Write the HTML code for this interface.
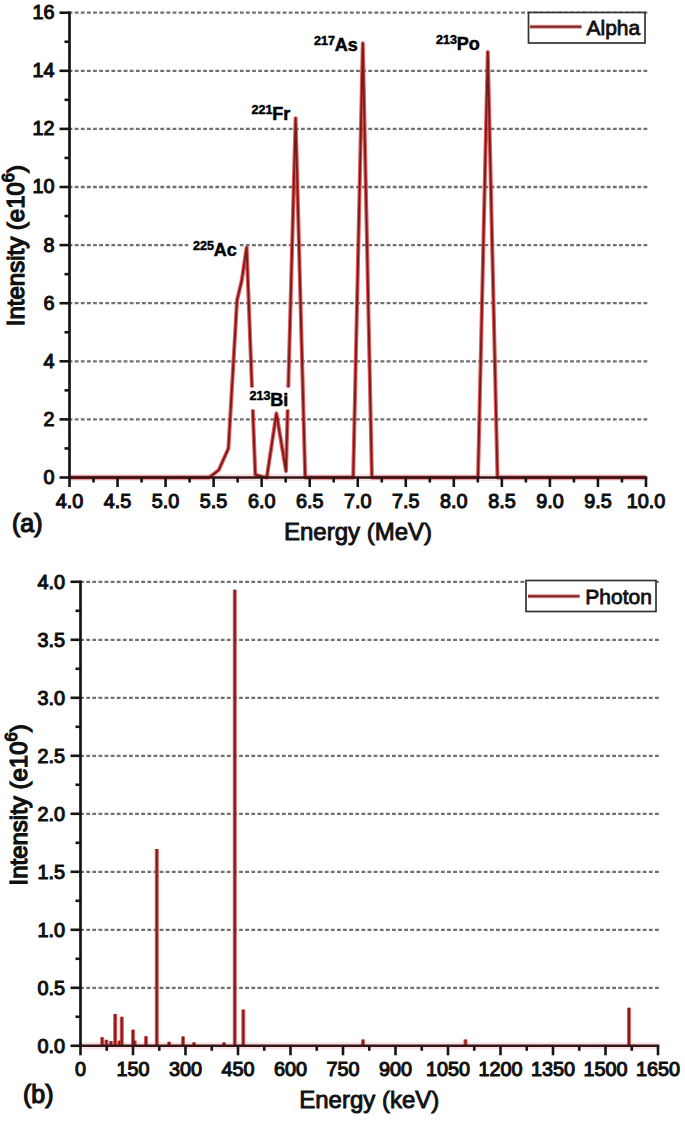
<!DOCTYPE html>
<html><head><meta charset="utf-8"><title>Spectra</title>
<style>html,body{margin:0;padding:0;background:#fff;overflow:hidden}svg{display:block}text{font-family:"Liberation Sans",sans-serif}</style>
</head><body>
<svg width="685" height="1121" viewBox="0 0 685 1121">
<rect width="685" height="1121" fill="#fff"/>
<line x1="68.6" y1="419.40" x2="647.5" y2="419.40" stroke="#707070" stroke-width="2.3" stroke-dasharray="3.8 2.316"/>
<line x1="68.6" y1="361.30" x2="647.5" y2="361.30" stroke="#707070" stroke-width="2.3" stroke-dasharray="3.8 2.316"/>
<line x1="68.6" y1="303.20" x2="647.5" y2="303.20" stroke="#707070" stroke-width="2.3" stroke-dasharray="3.8 2.316"/>
<line x1="68.6" y1="245.10" x2="647.5" y2="245.10" stroke="#707070" stroke-width="2.3" stroke-dasharray="3.8 2.316"/>
<line x1="68.6" y1="187.00" x2="647.5" y2="187.00" stroke="#707070" stroke-width="2.3" stroke-dasharray="3.8 2.316"/>
<line x1="68.6" y1="128.90" x2="647.5" y2="128.90" stroke="#707070" stroke-width="2.3" stroke-dasharray="3.8 2.316"/>
<line x1="68.6" y1="70.80" x2="647.5" y2="70.80" stroke="#707070" stroke-width="2.3" stroke-dasharray="3.8 2.316"/>
<line x1="68.6" y1="12.70" x2="647.5" y2="12.70" stroke="#707070" stroke-width="2.3" stroke-dasharray="3.8 2.316"/>
<line x1="71.0" y1="477.5" x2="646.0" y2="477.5" stroke="#f8e2e4" stroke-width="7"/>
<polyline points="70.00,477.50 209.20,477.50 218.80,469.95 228.40,448.45 237.04,300.30 241.84,279.96 246.64,247.42 255.28,474.60 262.00,476.63 266.80,477.50 276.40,413.30 286.00,471.11 295.60,118.15 305.20,477.50 353.20,477.50 362.80,43.20 371.92,477.50 478.00,477.50 487.79,51.92 497.49,477.50 646.00,477.50" fill="none" stroke="#e03c3c" stroke-width="4.0" stroke-linejoin="round" opacity="0.85"/>
<polyline points="70.00,477.50 209.20,477.50 218.80,469.95 228.40,448.45 237.04,300.30 241.84,279.96 246.64,247.42 255.28,474.60 262.00,476.63 266.80,477.50 276.40,413.30 286.00,471.11 295.60,118.15 305.20,477.50 353.20,477.50 362.80,43.20 371.92,477.50 478.00,477.50 487.79,51.92 497.49,477.50 646.00,477.50" fill="none" stroke="#741c1c" stroke-width="1.8" stroke-linejoin="round"/>
<line x1="68.1" y1="477.5" x2="647.3" y2="477.5" stroke="#351616" stroke-width="2.5"/>
<line x1="69.5" y1="11.4" x2="69.5" y2="478.9" stroke="#151515" stroke-width="2.7"/>
<line x1="59.5" y1="477.50" x2="69.5" y2="477.50" stroke="#151515" stroke-width="2.6"/>
<line x1="64.5" y1="448.45" x2="69.5" y2="448.45" stroke="#151515" stroke-width="2.6"/>
<line x1="59.5" y1="419.40" x2="69.5" y2="419.40" stroke="#151515" stroke-width="2.6"/>
<line x1="64.5" y1="390.35" x2="69.5" y2="390.35" stroke="#151515" stroke-width="2.6"/>
<line x1="59.5" y1="361.30" x2="69.5" y2="361.30" stroke="#151515" stroke-width="2.6"/>
<line x1="64.5" y1="332.25" x2="69.5" y2="332.25" stroke="#151515" stroke-width="2.6"/>
<line x1="59.5" y1="303.20" x2="69.5" y2="303.20" stroke="#151515" stroke-width="2.6"/>
<line x1="64.5" y1="274.15" x2="69.5" y2="274.15" stroke="#151515" stroke-width="2.6"/>
<line x1="59.5" y1="245.10" x2="69.5" y2="245.10" stroke="#151515" stroke-width="2.6"/>
<line x1="64.5" y1="216.05" x2="69.5" y2="216.05" stroke="#151515" stroke-width="2.6"/>
<line x1="59.5" y1="187.00" x2="69.5" y2="187.00" stroke="#151515" stroke-width="2.6"/>
<line x1="64.5" y1="157.95" x2="69.5" y2="157.95" stroke="#151515" stroke-width="2.6"/>
<line x1="59.5" y1="128.90" x2="69.5" y2="128.90" stroke="#151515" stroke-width="2.6"/>
<line x1="64.5" y1="99.85" x2="69.5" y2="99.85" stroke="#151515" stroke-width="2.6"/>
<line x1="59.5" y1="70.80" x2="69.5" y2="70.80" stroke="#151515" stroke-width="2.6"/>
<line x1="64.5" y1="41.75" x2="69.5" y2="41.75" stroke="#151515" stroke-width="2.6"/>
<line x1="59.5" y1="12.70" x2="69.5" y2="12.70" stroke="#151515" stroke-width="2.6"/>
<line x1="69.50" y1="477.5" x2="69.50" y2="487.0" stroke="#151515" stroke-width="2.6"/>
<line x1="93.52" y1="477.5" x2="93.52" y2="482.5" stroke="#151515" stroke-width="2.6"/>
<line x1="117.54" y1="477.5" x2="117.54" y2="487.0" stroke="#151515" stroke-width="2.6"/>
<line x1="141.56" y1="477.5" x2="141.56" y2="482.5" stroke="#151515" stroke-width="2.6"/>
<line x1="165.58" y1="477.5" x2="165.58" y2="487.0" stroke="#151515" stroke-width="2.6"/>
<line x1="189.60" y1="477.5" x2="189.60" y2="482.5" stroke="#151515" stroke-width="2.6"/>
<line x1="213.62" y1="477.5" x2="213.62" y2="487.0" stroke="#151515" stroke-width="2.6"/>
<line x1="237.64" y1="477.5" x2="237.64" y2="482.5" stroke="#151515" stroke-width="2.6"/>
<line x1="261.66" y1="477.5" x2="261.66" y2="487.0" stroke="#151515" stroke-width="2.6"/>
<line x1="285.68" y1="477.5" x2="285.68" y2="482.5" stroke="#151515" stroke-width="2.6"/>
<line x1="309.70" y1="477.5" x2="309.70" y2="487.0" stroke="#151515" stroke-width="2.6"/>
<line x1="333.72" y1="477.5" x2="333.72" y2="482.5" stroke="#151515" stroke-width="2.6"/>
<line x1="357.74" y1="477.5" x2="357.74" y2="487.0" stroke="#151515" stroke-width="2.6"/>
<line x1="381.76" y1="477.5" x2="381.76" y2="482.5" stroke="#151515" stroke-width="2.6"/>
<line x1="405.78" y1="477.5" x2="405.78" y2="487.0" stroke="#151515" stroke-width="2.6"/>
<line x1="429.80" y1="477.5" x2="429.80" y2="482.5" stroke="#151515" stroke-width="2.6"/>
<line x1="453.82" y1="477.5" x2="453.82" y2="487.0" stroke="#151515" stroke-width="2.6"/>
<line x1="477.84" y1="477.5" x2="477.84" y2="482.5" stroke="#151515" stroke-width="2.6"/>
<line x1="501.86" y1="477.5" x2="501.86" y2="487.0" stroke="#151515" stroke-width="2.6"/>
<line x1="525.88" y1="477.5" x2="525.88" y2="482.5" stroke="#151515" stroke-width="2.6"/>
<line x1="549.90" y1="477.5" x2="549.90" y2="487.0" stroke="#151515" stroke-width="2.6"/>
<line x1="573.92" y1="477.5" x2="573.92" y2="482.5" stroke="#151515" stroke-width="2.6"/>
<line x1="597.94" y1="477.5" x2="597.94" y2="487.0" stroke="#151515" stroke-width="2.6"/>
<line x1="621.96" y1="477.5" x2="621.96" y2="482.5" stroke="#151515" stroke-width="2.6"/>
<line x1="645.98" y1="477.5" x2="645.98" y2="487.0" stroke="#151515" stroke-width="2.6"/>
<text x="54.5" y="483.9" text-anchor="end" font-size="19.8" stroke="#111" stroke-width="1.1" fill="#111">0</text>
<text x="54.5" y="425.8" text-anchor="end" font-size="19.8" stroke="#111" stroke-width="1.1" fill="#111">2</text>
<text x="54.5" y="367.7" text-anchor="end" font-size="19.8" stroke="#111" stroke-width="1.1" fill="#111">4</text>
<text x="54.5" y="309.6" text-anchor="end" font-size="19.8" stroke="#111" stroke-width="1.1" fill="#111">6</text>
<text x="54.5" y="251.5" text-anchor="end" font-size="19.8" stroke="#111" stroke-width="1.1" fill="#111">8</text>
<text x="54.5" y="193.4" text-anchor="end" font-size="19.8" stroke="#111" stroke-width="1.1" fill="#111">10</text>
<text x="54.5" y="135.3" text-anchor="end" font-size="19.8" stroke="#111" stroke-width="1.1" fill="#111">12</text>
<text x="54.5" y="77.2" text-anchor="end" font-size="19.8" stroke="#111" stroke-width="1.1" fill="#111">14</text>
<text x="54.5" y="19.1" text-anchor="end" font-size="19.8" stroke="#111" stroke-width="1.1" fill="#111">16</text>
<text x="69.5" y="508" text-anchor="middle" font-size="19.8" stroke="#111" stroke-width="1.1" fill="#111">4.0</text>
<text x="117.5" y="508" text-anchor="middle" font-size="19.8" stroke="#111" stroke-width="1.1" fill="#111">4.5</text>
<text x="165.6" y="508" text-anchor="middle" font-size="19.8" stroke="#111" stroke-width="1.1" fill="#111">5.0</text>
<text x="213.6" y="508" text-anchor="middle" font-size="19.8" stroke="#111" stroke-width="1.1" fill="#111">5.5</text>
<text x="261.7" y="508" text-anchor="middle" font-size="19.8" stroke="#111" stroke-width="1.1" fill="#111">6.0</text>
<text x="309.7" y="508" text-anchor="middle" font-size="19.8" stroke="#111" stroke-width="1.1" fill="#111">6.5</text>
<text x="357.7" y="508" text-anchor="middle" font-size="19.8" stroke="#111" stroke-width="1.1" fill="#111">7.0</text>
<text x="405.8" y="508" text-anchor="middle" font-size="19.8" stroke="#111" stroke-width="1.1" fill="#111">7.5</text>
<text x="453.8" y="508" text-anchor="middle" font-size="19.8" stroke="#111" stroke-width="1.1" fill="#111">8.0</text>
<text x="501.9" y="508" text-anchor="middle" font-size="19.8" stroke="#111" stroke-width="1.1" fill="#111">8.5</text>
<text x="549.9" y="508" text-anchor="middle" font-size="19.8" stroke="#111" stroke-width="1.1" fill="#111">9.0</text>
<text x="597.9" y="508" text-anchor="middle" font-size="19.8" stroke="#111" stroke-width="1.1" fill="#111">9.5</text>
<text x="646.0" y="508" text-anchor="middle" font-size="19.8" stroke="#111" stroke-width="1.1" fill="#111">10.0</text>
<text x="358" y="540" text-anchor="middle" font-size="24.0" stroke="#111" stroke-width="0.9" fill="#111">Energy (MeV)</text>
<text transform="translate(24,245.6) rotate(-90)" text-anchor="middle" font-size="24.0" stroke="#111" stroke-width="1.3" fill="#111">Intensity (e10<tspan font-size="16.5" dy="-10">6</tspan><tspan dy="10">)</tspan></text>
<text x="12" y="531.9" font-size="25" stroke="#111" stroke-width="1.2" fill="#111">(a)</text>
<rect x="188.5" y="236" width="49.5" height="23" fill="#fff"/>
<text x="193.0" y="256.0" font-size="18" font-weight="bold" stroke="#000" stroke-width="0.5" fill="#000"><tspan font-size="12.5" dy="-6">225</tspan><tspan dy="6">Ac</tspan></text>
<text x="251.5" y="120.0" font-size="18" font-weight="bold" stroke="#000" stroke-width="0.5" fill="#000"><tspan font-size="12.5" dy="-6">221</tspan><tspan dy="6">Fr</tspan></text>
<text x="314.0" y="51.0" font-size="18" font-weight="bold" stroke="#000" stroke-width="0.5" fill="#000"><tspan font-size="12.5" dy="-6">217</tspan><tspan dy="6">As</tspan></text>
<text x="436.0" y="50.0" font-size="18" font-weight="bold" stroke="#000" stroke-width="0.5" fill="#000"><tspan font-size="12.5" dy="-6">213</tspan><tspan dy="6">Po</tspan></text>
<rect x="248" y="387.5" width="42.5" height="22.0" fill="#fff"/>
<text x="249.5" y="406.0" font-size="18" font-weight="bold" stroke="#000" stroke-width="0.5" fill="#000"><tspan font-size="12.5" dy="-6">213</tspan><tspan dy="6">Bi</tspan></text>
<rect x="528.5" y="12.5" width="116.5" height="30.5" fill="#fff" stroke="#333" stroke-width="1.7"/>
<line x1="530" y1="26.8" x2="581.5" y2="26.8" stroke="#e58a8a" stroke-width="4"/>
<line x1="530" y1="26.8" x2="581.5" y2="26.8" stroke="#7a2a2a" stroke-width="2"/>
<text x="586.5" y="35" font-size="21" stroke="#111" stroke-width="0.8" fill="#111">Alpha</text>
<line x1="80.1" y1="987.80" x2="659.5" y2="987.80" stroke="#707070" stroke-width="2.3" stroke-dasharray="3.8 2.316"/>
<line x1="80.1" y1="929.80" x2="659.5" y2="929.80" stroke="#707070" stroke-width="2.3" stroke-dasharray="3.8 2.316"/>
<line x1="80.1" y1="871.80" x2="659.5" y2="871.80" stroke="#707070" stroke-width="2.3" stroke-dasharray="3.8 2.316"/>
<line x1="80.1" y1="813.80" x2="659.5" y2="813.80" stroke="#707070" stroke-width="2.3" stroke-dasharray="3.8 2.316"/>
<line x1="80.1" y1="755.80" x2="659.5" y2="755.80" stroke="#707070" stroke-width="2.3" stroke-dasharray="3.8 2.316"/>
<line x1="80.1" y1="697.80" x2="659.5" y2="697.80" stroke="#707070" stroke-width="2.3" stroke-dasharray="3.8 2.316"/>
<line x1="80.1" y1="639.80" x2="659.5" y2="639.80" stroke="#707070" stroke-width="2.3" stroke-dasharray="3.8 2.316"/>
<line x1="80.1" y1="581.80" x2="659.5" y2="581.80" stroke="#707070" stroke-width="2.3" stroke-dasharray="3.8 2.316"/>
<line x1="82.0" y1="1045.8" x2="658.0" y2="1045.8" stroke="#f8e2e4" stroke-width="7"/>
<line x1="102.20" y1="1045.80" x2="102.20" y2="1037.19" stroke="#e03c3c" stroke-width="4.0" opacity="0.85"/>
<line x1="106.40" y1="1045.80" x2="106.40" y2="1039.85" stroke="#e03c3c" stroke-width="4.0" opacity="0.85"/>
<line x1="110.95" y1="1045.80" x2="110.95" y2="1041.13" stroke="#e03c3c" stroke-width="4.0" opacity="0.85"/>
<line x1="115.15" y1="1045.80" x2="115.15" y2="1014.01" stroke="#e03c3c" stroke-width="4.0" opacity="0.85"/>
<line x1="119.35" y1="1045.80" x2="119.35" y2="1040.66" stroke="#e03c3c" stroke-width="4.0" opacity="0.85"/>
<line x1="121.80" y1="1045.80" x2="121.80" y2="1016.79" stroke="#e03c3c" stroke-width="4.0" opacity="0.85"/>
<line x1="133.00" y1="1045.80" x2="133.00" y2="1029.65" stroke="#e03c3c" stroke-width="4.0" opacity="0.85"/>
<line x1="134.75" y1="1045.80" x2="134.75" y2="1040.66" stroke="#e03c3c" stroke-width="4.0" opacity="0.85"/>
<line x1="145.95" y1="1045.80" x2="145.95" y2="1036.26" stroke="#e03c3c" stroke-width="4.0" opacity="0.85"/>
<line x1="156.80" y1="1045.80" x2="156.80" y2="848.97" stroke="#e03c3c" stroke-width="4.0" opacity="0.85"/>
<line x1="169.05" y1="1045.80" x2="169.05" y2="1041.82" stroke="#e03c3c" stroke-width="4.0" opacity="0.85"/>
<line x1="183.05" y1="1045.80" x2="183.05" y2="1036.49" stroke="#e03c3c" stroke-width="4.0" opacity="0.85"/>
<line x1="193.90" y1="1045.80" x2="193.90" y2="1042.40" stroke="#e03c3c" stroke-width="4.0" opacity="0.85"/>
<line x1="224.00" y1="1045.80" x2="224.00" y2="1042.40" stroke="#e03c3c" stroke-width="4.0" opacity="0.85"/>
<line x1="234.78" y1="1045.80" x2="234.78" y2="589.81" stroke="#e03c3c" stroke-width="4.0" opacity="0.85"/>
<line x1="243.25" y1="1045.80" x2="243.25" y2="1009.60" stroke="#e03c3c" stroke-width="4.0" opacity="0.85"/>
<line x1="362.95" y1="1045.80" x2="362.95" y2="1039.50" stroke="#e03c3c" stroke-width="4.0" opacity="0.85"/>
<line x1="465.50" y1="1045.80" x2="465.50" y2="1039.50" stroke="#e03c3c" stroke-width="4.0" opacity="0.85"/>
<line x1="628.95" y1="1045.80" x2="628.95" y2="1007.75" stroke="#e03c3c" stroke-width="4.0" opacity="0.85"/>
<line x1="102.20" y1="1045.80" x2="102.20" y2="1037.19" stroke="#741c1c" stroke-width="1.8"/>
<line x1="106.40" y1="1045.80" x2="106.40" y2="1039.85" stroke="#741c1c" stroke-width="1.8"/>
<line x1="110.95" y1="1045.80" x2="110.95" y2="1041.13" stroke="#741c1c" stroke-width="1.8"/>
<line x1="115.15" y1="1045.80" x2="115.15" y2="1014.01" stroke="#741c1c" stroke-width="1.8"/>
<line x1="119.35" y1="1045.80" x2="119.35" y2="1040.66" stroke="#741c1c" stroke-width="1.8"/>
<line x1="121.80" y1="1045.80" x2="121.80" y2="1016.79" stroke="#741c1c" stroke-width="1.8"/>
<line x1="133.00" y1="1045.80" x2="133.00" y2="1029.65" stroke="#741c1c" stroke-width="1.8"/>
<line x1="134.75" y1="1045.80" x2="134.75" y2="1040.66" stroke="#741c1c" stroke-width="1.8"/>
<line x1="145.95" y1="1045.80" x2="145.95" y2="1036.26" stroke="#741c1c" stroke-width="1.8"/>
<line x1="156.80" y1="1045.80" x2="156.80" y2="848.97" stroke="#741c1c" stroke-width="1.8"/>
<line x1="169.05" y1="1045.80" x2="169.05" y2="1041.82" stroke="#741c1c" stroke-width="1.8"/>
<line x1="183.05" y1="1045.80" x2="183.05" y2="1036.49" stroke="#741c1c" stroke-width="1.8"/>
<line x1="193.90" y1="1045.80" x2="193.90" y2="1042.40" stroke="#741c1c" stroke-width="1.8"/>
<line x1="224.00" y1="1045.80" x2="224.00" y2="1042.40" stroke="#741c1c" stroke-width="1.8"/>
<line x1="234.78" y1="1045.80" x2="234.78" y2="589.81" stroke="#741c1c" stroke-width="1.8"/>
<line x1="243.25" y1="1045.80" x2="243.25" y2="1009.60" stroke="#741c1c" stroke-width="1.8"/>
<line x1="362.95" y1="1045.80" x2="362.95" y2="1039.50" stroke="#741c1c" stroke-width="1.8"/>
<line x1="465.50" y1="1045.80" x2="465.50" y2="1039.50" stroke="#741c1c" stroke-width="1.8"/>
<line x1="628.95" y1="1045.80" x2="628.95" y2="1007.75" stroke="#741c1c" stroke-width="1.8"/>
<line x1="79.1" y1="1045.8" x2="659.3" y2="1045.8" stroke="#351616" stroke-width="2.5"/>
<line x1="80.5" y1="580.5" x2="80.5" y2="1047.2" stroke="#151515" stroke-width="2.7"/>
<line x1="70.5" y1="1045.80" x2="80.5" y2="1045.80" stroke="#151515" stroke-width="2.6"/>
<line x1="75.5" y1="1016.80" x2="80.5" y2="1016.80" stroke="#151515" stroke-width="2.6"/>
<line x1="70.5" y1="987.80" x2="80.5" y2="987.80" stroke="#151515" stroke-width="2.6"/>
<line x1="75.5" y1="958.80" x2="80.5" y2="958.80" stroke="#151515" stroke-width="2.6"/>
<line x1="70.5" y1="929.80" x2="80.5" y2="929.80" stroke="#151515" stroke-width="2.6"/>
<line x1="75.5" y1="900.80" x2="80.5" y2="900.80" stroke="#151515" stroke-width="2.6"/>
<line x1="70.5" y1="871.80" x2="80.5" y2="871.80" stroke="#151515" stroke-width="2.6"/>
<line x1="75.5" y1="842.80" x2="80.5" y2="842.80" stroke="#151515" stroke-width="2.6"/>
<line x1="70.5" y1="813.80" x2="80.5" y2="813.80" stroke="#151515" stroke-width="2.6"/>
<line x1="75.5" y1="784.80" x2="80.5" y2="784.80" stroke="#151515" stroke-width="2.6"/>
<line x1="70.5" y1="755.80" x2="80.5" y2="755.80" stroke="#151515" stroke-width="2.6"/>
<line x1="75.5" y1="726.80" x2="80.5" y2="726.80" stroke="#151515" stroke-width="2.6"/>
<line x1="70.5" y1="697.80" x2="80.5" y2="697.80" stroke="#151515" stroke-width="2.6"/>
<line x1="75.5" y1="668.80" x2="80.5" y2="668.80" stroke="#151515" stroke-width="2.6"/>
<line x1="70.5" y1="639.80" x2="80.5" y2="639.80" stroke="#151515" stroke-width="2.6"/>
<line x1="75.5" y1="610.80" x2="80.5" y2="610.80" stroke="#151515" stroke-width="2.6"/>
<line x1="70.5" y1="581.80" x2="80.5" y2="581.80" stroke="#151515" stroke-width="2.6"/>
<line x1="80.50" y1="1045.8" x2="80.50" y2="1055.3" stroke="#151515" stroke-width="2.6"/>
<line x1="106.75" y1="1045.8" x2="106.75" y2="1050.8" stroke="#151515" stroke-width="2.6"/>
<line x1="133.00" y1="1045.8" x2="133.00" y2="1055.3" stroke="#151515" stroke-width="2.6"/>
<line x1="159.25" y1="1045.8" x2="159.25" y2="1050.8" stroke="#151515" stroke-width="2.6"/>
<line x1="185.50" y1="1045.8" x2="185.50" y2="1055.3" stroke="#151515" stroke-width="2.6"/>
<line x1="211.75" y1="1045.8" x2="211.75" y2="1050.8" stroke="#151515" stroke-width="2.6"/>
<line x1="238.00" y1="1045.8" x2="238.00" y2="1055.3" stroke="#151515" stroke-width="2.6"/>
<line x1="264.25" y1="1045.8" x2="264.25" y2="1050.8" stroke="#151515" stroke-width="2.6"/>
<line x1="290.50" y1="1045.8" x2="290.50" y2="1055.3" stroke="#151515" stroke-width="2.6"/>
<line x1="316.75" y1="1045.8" x2="316.75" y2="1050.8" stroke="#151515" stroke-width="2.6"/>
<line x1="343.00" y1="1045.8" x2="343.00" y2="1055.3" stroke="#151515" stroke-width="2.6"/>
<line x1="369.25" y1="1045.8" x2="369.25" y2="1050.8" stroke="#151515" stroke-width="2.6"/>
<line x1="395.50" y1="1045.8" x2="395.50" y2="1055.3" stroke="#151515" stroke-width="2.6"/>
<line x1="421.75" y1="1045.8" x2="421.75" y2="1050.8" stroke="#151515" stroke-width="2.6"/>
<line x1="448.00" y1="1045.8" x2="448.00" y2="1055.3" stroke="#151515" stroke-width="2.6"/>
<line x1="474.25" y1="1045.8" x2="474.25" y2="1050.8" stroke="#151515" stroke-width="2.6"/>
<line x1="500.50" y1="1045.8" x2="500.50" y2="1055.3" stroke="#151515" stroke-width="2.6"/>
<line x1="526.75" y1="1045.8" x2="526.75" y2="1050.8" stroke="#151515" stroke-width="2.6"/>
<line x1="553.00" y1="1045.8" x2="553.00" y2="1055.3" stroke="#151515" stroke-width="2.6"/>
<line x1="579.25" y1="1045.8" x2="579.25" y2="1050.8" stroke="#151515" stroke-width="2.6"/>
<line x1="605.50" y1="1045.8" x2="605.50" y2="1055.3" stroke="#151515" stroke-width="2.6"/>
<line x1="631.75" y1="1045.8" x2="631.75" y2="1050.8" stroke="#151515" stroke-width="2.6"/>
<line x1="658.00" y1="1045.8" x2="658.00" y2="1055.3" stroke="#151515" stroke-width="2.6"/>
<text x="65" y="1052.8" text-anchor="end" font-size="19.8" stroke="#111" stroke-width="1.1" fill="#111">0.0</text>
<text x="65" y="994.8" text-anchor="end" font-size="19.8" stroke="#111" stroke-width="1.1" fill="#111">0.5</text>
<text x="65" y="936.8" text-anchor="end" font-size="19.8" stroke="#111" stroke-width="1.1" fill="#111">1.0</text>
<text x="65" y="878.8" text-anchor="end" font-size="19.8" stroke="#111" stroke-width="1.1" fill="#111">1.5</text>
<text x="65" y="820.8" text-anchor="end" font-size="19.8" stroke="#111" stroke-width="1.1" fill="#111">2.0</text>
<text x="65" y="762.8" text-anchor="end" font-size="19.8" stroke="#111" stroke-width="1.1" fill="#111">2.5</text>
<text x="65" y="704.8" text-anchor="end" font-size="19.8" stroke="#111" stroke-width="1.1" fill="#111">3.0</text>
<text x="65" y="646.8" text-anchor="end" font-size="19.8" stroke="#111" stroke-width="1.1" fill="#111">3.5</text>
<text x="65" y="588.8" text-anchor="end" font-size="19.8" stroke="#111" stroke-width="1.1" fill="#111">4.0</text>
<text x="80.5" y="1076" text-anchor="middle" font-size="19.8" stroke="#111" stroke-width="1.1" fill="#111">0</text>
<text x="133.0" y="1076" text-anchor="middle" font-size="19.8" stroke="#111" stroke-width="1.1" fill="#111">150</text>
<text x="185.5" y="1076" text-anchor="middle" font-size="19.8" stroke="#111" stroke-width="1.1" fill="#111">300</text>
<text x="238.0" y="1076" text-anchor="middle" font-size="19.8" stroke="#111" stroke-width="1.1" fill="#111">450</text>
<text x="290.5" y="1076" text-anchor="middle" font-size="19.8" stroke="#111" stroke-width="1.1" fill="#111">600</text>
<text x="343.0" y="1076" text-anchor="middle" font-size="19.8" stroke="#111" stroke-width="1.1" fill="#111">750</text>
<text x="395.5" y="1076" text-anchor="middle" font-size="19.8" stroke="#111" stroke-width="1.1" fill="#111">900</text>
<text x="448.0" y="1076" text-anchor="middle" font-size="19.8" stroke="#111" stroke-width="1.1" fill="#111">1050</text>
<text x="500.5" y="1076" text-anchor="middle" font-size="19.8" stroke="#111" stroke-width="1.1" fill="#111">1200</text>
<text x="553.0" y="1076" text-anchor="middle" font-size="19.8" stroke="#111" stroke-width="1.1" fill="#111">1350</text>
<text x="605.5" y="1076" text-anchor="middle" font-size="19.8" stroke="#111" stroke-width="1.1" fill="#111">1500</text>
<text x="658.0" y="1076" text-anchor="middle" font-size="19.8" stroke="#111" stroke-width="1.1" fill="#111">1650</text>
<text x="369.3" y="1108.3" text-anchor="middle" font-size="24.0" stroke="#111" stroke-width="0.9" fill="#111">Energy (keV)</text>
<text transform="translate(26.5,804.9) rotate(-90)" text-anchor="middle" font-size="24.0" stroke="#111" stroke-width="1.3" fill="#111">Intensity (e10<tspan font-size="16.5" dy="-10">6</tspan><tspan dy="10">)</tspan></text>
<text x="23" y="1102.8" font-size="25" stroke="#111" stroke-width="1.2" fill="#111">(b)</text>
<rect x="526" y="580.5" width="130" height="31" fill="#fff" stroke="#333" stroke-width="1.7"/>
<line x1="528" y1="596.3" x2="579.6" y2="596.3" stroke="#e58a8a" stroke-width="4"/>
<line x1="528" y1="596.3" x2="579.6" y2="596.3" stroke="#7a2a2a" stroke-width="2"/>
<text x="585.3" y="604" font-size="21" stroke="#111" stroke-width="0.8" fill="#111">Photon</text>
</svg></body></html>
